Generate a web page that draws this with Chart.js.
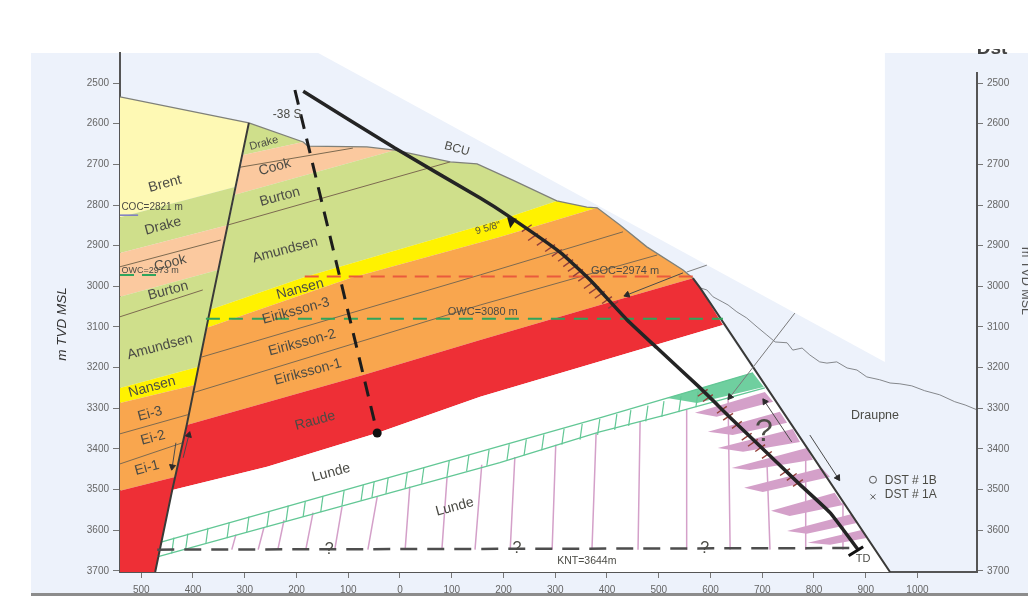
<!DOCTYPE html>
<html>
<head>
<meta charset="utf-8">
<title>Well section</title>
<style>
  html, body { margin: 0; padding: 0; background: #fff; overflow: hidden; }
  #wrap { width: 1028px; height: 599px; }
  canvas { filter: blur(0.4px); }
</style>
<script src="https://cdn.jsdelivr.net/npm/chart.js@4"></script>
</head>
<body>
<div id="wrap"><canvas id="section" width="1028" height="599"></canvas></div>
<script>
// axis ticks
const xTicks = [-500, -400, -300, -200, -100, 0, 100, 200, 300, 400, 500, 600, 700, 800, 900, 1000];
const depthTicks = [2500, 2600, 2700, 2800, 2900, 3000, 3100, 3200, 3300, 3400, 3500, 3600, 3700];

// west of the fault, [offset, depth]
const brentWest = [[-541, 2534], [-292, 2598], [-319, 2756], [-541, 2830]];
const drakeWest = [[-541, 2830], [-319, 2756], [-332, 2849], [-541, 2918]];
const cookWest = [[-541, 2918], [-332, 2849], [-352, 2960], [-541, 3026]];
const amundsenWest = [[-541, 3026], [-352, 2960], [-389, 3198], [-541, 3250]];
const nansenWest = [[-541, 3250], [-389, 3198], [-396, 3243], [-541, 3287]];
const eirikssonWest = [[-541, 3287], [-396, 3243], [-435, 3469], [-541, 3503]];
const raudeWest = [[-541, 3503], [-435, 3469], [-473, 3703], [-541, 3703]];

// east of the fault
const drakeEast = [[-292, 2598], [-187, 2645], [-303, 2677]];
const cookEast = [[-303, 2677], [-187, 2645], [-178, 2655], [-64, 2657], [-10, 2665], [-319, 2775]];
const amundsenEast = [[-319, 2775], [-10, 2665], [97, 2694], [149, 2699], [218, 2739], [303, 2790], [193, 2837], [-184, 2977], [-367, 3058]];
const nansenEast = [[-367, 3058], [-184, 2977], [193, 2837], [303, 2790], [361, 2805], [381, 2807], [193, 2879], [-97, 2980], [-373, 3102]];
const eirikssonEast = [[-373, 3102], [-97, 2980], [193, 2879], [381, 2807], [425, 2849], [477, 2903], [547, 2960], [566, 2980], [400, 3041], [155, 3132], [-71, 3218], [-412, 3341]];
const raudeEast = [[-412, 3341], [-71, 3218], [155, 3132], [400, 3041], [566, 2980], [580, 3004], [624, 3095], [155, 3272], [-44, 3361], [-257, 3444], [-440, 3501]];
const lunde = [[-440, 3501], [-257, 3444], [-44, 3361], [155, 3272], [624, 3095], [947, 3703], [-473, 3703]];
const blankArea = [[-158, 2426], [937, 2426], [937, 3186]];

// structure lines
const bcu = [[-541, 2534], [-292, 2598], [-187, 2645], [-178, 2655], [-64, 2657], [-10, 2665], [97, 2694], [149, 2699], [218, 2739], [303, 2790], [361, 2805], [381, 2807], [425, 2849], [477, 2903], [547, 2960], [566, 2980]];
const mainFault = [[-292, 2598], [-367, 3058], [-412, 3341], [-440, 3501], [-473, 3703]];
const eastFault = [[566, 2980], [580, 3004], [947, 3703]];
const draupneTop = [[580, 3004], [593, 3009], [605, 3026], [624, 3039], [634, 3046], [651, 3063], [670, 3078], [690, 3100], [709, 3120], [725, 3137], [748, 3139], [759, 3157], [777, 3152], [792, 3169], [811, 3186], [825, 3189], [844, 3186], [864, 3201], [883, 3206], [902, 3223], [927, 3230], [947, 3238], [966, 3240], [989, 3245], [1014, 3257], [1043, 3267], [1072, 3284], [1092, 3292], [1115, 3304]];
const innerLines = [
  [[-541, 2952], [-346, 2886]],
  [[-541, 3075], [-381, 3009]],
  [[-541, 3363], [-410, 3316]],
  [[-541, 3437], [-420, 3385]],
  [[-309, 2707], [-91, 2660]],
  [[-332, 2849], [97, 2694]],
  [[-383, 3174], [155, 2972], [431, 2866]],
  [[-400, 3262], [155, 3046], [497, 2923]]
];

// contacts
const gocEast = [[-184, 2976], [566, 2976]];
const owcEast = [[-375, 3080], [624, 3080]];
const cocWest = [[-541, 2825], [-506, 2825]];
const owcWest = [[-541, 2972], [-468, 2972]];
const knt = [[-469, 3648], [885, 3644]];

// Lunde cemented band
const bandTop = [[-460, 3629], [193, 3393], [386, 3324], [516, 3275], [682, 3213]];
const bandBase = [[-469, 3666], [193, 3434], [386, 3358], [516, 3316], [705, 3250]];
const bandFill = [[516, 3275], [682, 3213], [703, 3248], [574, 3287]];
const bandHatchX = [-439, -412, -373, -332, -294, -255, -218, -185, -151, -110, -73, -52, -25, 12, 44, 93, 131, 170, 209, 242, 276, 315, 350, 384, 417, 444, 477, 508, 541, 574];
const bandHatchY = [3638, 3628, 3614, 3600, 3586, 3573, 3559, 3548, 3536, 3521, 3508, 3500, 3491, 3478, 3466, 3449, 3435, 3422, 3408, 3396, 3384, 3370, 3358, 3346, 3334, 3324, 3313, 3302, 3290, 3278];

// pink fractures
const fractureTopX = [-317, -263, -224, -168, -112, -44, 19, 91, 158, 222, 301, 379, 464, 554, 634, 709, 784, 856];
const fractureTopY = [3611, 3594, 3575, 3557, 3543, 3518, 3493, 3469, 3439, 3420, 3390, 3361, 3334, 3304, 3272, 3427, 3427, 3533];
const fractureFootX = [-325, -274, -236, -182, -126, -62, 10, 81, 145, 213, 294, 371, 460, 554, 638, 715, 784, 856];
const fractureFootY = 3648;
const wedges = [
  [[570, 3311], [705, 3260], [721, 3284], [612, 3321]],
  [[595, 3358], [734, 3309], [748, 3336], [643, 3366]],
  [[614, 3398], [759, 3351], [773, 3383], [663, 3407]],
  [[641, 3447], [786, 3398], [798, 3427], [676, 3452]],
  [[665, 3496], [815, 3447], [831, 3469], [701, 3506]],
  [[717, 3552], [840, 3508], [856, 3538], [753, 3565]],
  [[748, 3602], [873, 3560], [885, 3582], [786, 3609]],
  [[788, 3631], [894, 3599], [904, 3619], [831, 3636]]
];

// wells
const wellPath = [[-187, 2520], [-10, 2660], [155, 2783], [207, 2825], [309, 2916], [367, 2984], [439, 3083], [497, 3152], [580, 3250], [643, 3329], [773, 3488], [831, 3557], [885, 3648]];
const wellTD = [[867, 3663], [895, 3641]];
const casingShoe = [[207, 2830], [226, 2834], [213, 2857]];
const oldWell = [[-203, 2517], [-44, 3361]];
const perfX = [245, 257, 274, 290, 303, 315, 325, 334, 344, 354, 365, 375, 386, 400, 412, 585, 595, 622, 634, 651, 670, 682, 696, 709, 744, 757, 769];
const perfY = [2857, 2879, 2891, 2906, 2918, 2930, 2943, 2955, 2967, 2979, 2997, 3009, 3021, 3034, 3046, 3262, 3275, 3304, 3321, 3341, 3370, 3385, 3398, 3415, 3457, 3469, 3484];

// arrows, second point is the head
const arrows = [
  [[-433, 3385], [-440, 3444]],
  [[-419, 3422], [-408, 3366]],
  [[547, 2967], [439, 3021]],
  [[763, 3066], [638, 3272]],
  [[757, 3383], [705, 3284]],
  [[792, 3366], [846, 3471]]
];
const arrowHeadings = [190, 15, -111, 218, -34, 147];
const faultStub = [[554, 2965], [593, 2948]];

const rightAxisLine = [[1115, 2473], [1115, 3703]];
const dstOpen = [[914, 3476]];
const dstCross = [[914, 3518]];

const labels = [
  { t: "Brent", x: -454, y: 2748 },
  { t: "Drake", x: -458, y: 2852 },
  { t: "COC=2821 m", x: -479, y: 2805, size: 10, rot: 0 },
  { t: "OWC=2973 m", x: -483, y: 2960, size: 9, rot: 0 },
  { t: "Cook", x: -444, y: 2943 },
  { t: "Burton", x: -448, y: 3011 },
  { t: "Amundsen", x: -464, y: 3149 },
  { t: "Nansen", x: -479, y: 3248 },
  { t: "Ei-3", x: -483, y: 3314 },
  { t: "Ei-2", x: -477, y: 3373 },
  { t: "Ei-1", x: -489, y: 3447 },
  { t: "Drake", x: -263, y: 2648, size: 11 },
  { t: "Cook", x: -242, y: 2707 },
  { t: "Burton", x: -232, y: 2780 },
  { t: "Amundsen", x: -222, y: 2911 },
  { t: "Nansen", x: -193, y: 3007 },
  { t: "Eiriksson-3", x: -201, y: 3061 },
  { t: "Eiriksson-2", x: -189, y: 3139 },
  { t: "Eiriksson-1", x: -178, y: 3211 },
  { t: "Raude", x: -164, y: 3331 },
  { t: "Lunde", x: -133, y: 3459 },
  { t: "Lunde", x: 106, y: 3543 },
  { t: "-38 S", x: -218, y: 2579, size: 12, rot: 0 },
  { t: "BCU", x: 110, y: 2662, size: 12, rot: 15 },
  { t: "9 5/8\"", x: 170, y: 2857, size: 10 },
  { t: "GOC=2974 m", x: 435, y: 2962, size: 11, rot: 0 },
  { t: "OWC=3080 m", x: 160, y: 3063, size: 11, rot: 0 },
  { t: "KNT=3644m", x: 361, y: 3675, size: 10.5, rot: 0 },
  { t: "TD", x: 895, y: 3670, size: 11, rot: 0 },
  { t: "Draupne", x: 918, y: 3319, size: 12.5, rot: 0 },
  { t: "DST # 1B", x: 987, y: 3479, size: 12, rot: 0 },
  { t: "DST # 1A", x: 987, y: 3513, size: 12, rot: 0 },
  { t: "?", x: -137, y: 3648, size: 16, rot: 0 },
  { t: "?", x: 226, y: 3646, size: 16, rot: 0 },
  { t: "?", x: 589, y: 3646, size: 16, rot: 0 },
  { t: "?", x: 703, y: 3358, size: 32, rot: 0 }
];

const FONT = '"Liberation Sans", Arial, sans-serif';
const toPoints = pts => pts.map(p => ({ x: p[0], y: p[1] }));

function poly(pts, color) {
  return { data: toPoints(pts), showLine: true, fill: "shape", backgroundColor: color, borderWidth: 0, pointRadius: 0 };
}
function line(pts, color, width, dash) {
  return { data: toPoints(pts), showLine: true, fill: false, borderColor: color, borderWidth: width, borderDash: dash || [], pointRadius: 0 };
}
function marks(pts, color, style, radius, rotation, width) {
  return {
    data: toPoints(pts), showLine: false,
    pointStyle: style, pointRadius: radius, pointRotation: rotation,
    pointBorderColor: color, pointBackgroundColor: color, pointBorderWidth: width
  };
}
const zip = (xs, ys) => xs.map((x, i) => [x, ys[i]]);

const GREEN = "#cfdf8b", PEACH = "#fbc99f", YELLOW = "#fff200", ORANGE = "#f9a64e", RED = "#ee2f36";
const BAND = "#6fcf9f", PINK = "#d4a0c9";

const fractures = [];
fractureTopX.forEach((x, i) => {
  fractures.push([x, fractureTopY[i]], [fractureFootX[i], fractureFootY], [NaN, NaN]);
});

const well = line(wellPath, "#242424", 3.5);
well.tension = 0.15;
const rightAxis = line(rightAxisLine, "#555555", 2);
rightAxis.clip = false;
const openMark = marks(dstOpen, "#555555", "circle", 3.5, 0, 1);
openMark.pointBackgroundColor = "rgba(0,0,0,0)";

// painter's order, reversed below because chart.js draws the last dataset first
const layers = [
  poly(blankArea, "#ffffff"),
  poly(brentWest, "#fef9b4"), poly(drakeWest, GREEN), poly(cookWest, PEACH), poly(amundsenWest, GREEN),
  poly(nansenWest, YELLOW), poly(eirikssonWest, ORANGE), poly(raudeWest, RED),
  poly(drakeEast, GREEN), poly(cookEast, PEACH), poly(amundsenEast, GREEN), poly(nansenEast, YELLOW),
  poly(eirikssonEast, ORANGE), poly(raudeEast, RED), poly(lunde, "#ffffff"),
  line(draupneTop, "#85888c", 1),
  ...innerLines.map(l => line(l, "#7d6a50", 1)),
  line(fractures, PINK, 1.5),
  ...wedges.map(w => poly(w, PINK)),
  poly(bandFill, BAND),
  line(bandTop, "#62c795", 1.3), line(bandBase, "#62c795", 1.3),
  marks(zip(bandHatchX, bandHatchY), "#62c795", "line", 8, -82, 1.2),
  line(bcu, "#7f8078", 1.3),
  line(mainFault, "#3a3a38", 2), line(eastFault, "#3a3a38", 2),
  line(faultStub, "#808080", 1),
  line(gocEast, "#ea5a3c", 2, [14, 8]),
  line(owcEast, "#2fa55c", 2, [14, 9]),
  line(cocWest, "#7a78c4", 1.5),
  line(owcWest, "#2fa55c", 2, [14, 8]),
  line(knt, "#4d4d4d", 2.5, [17, 10]),
  marks(zip(perfX, perfY), "#93403a", "line", 6, -35, 1.4),
  line(oldWell, "#1c1c1c", 3, [15, 10]),
  marks([oldWell[1]], "#111111", "circle", 4.5, 0, 0),
  well,
  line(wellTD, "#111111", 3),
  poly(casingShoe, "#1c1c1c"),
  openMark,
  marks(dstCross, "#555555", "crossRot", 3.5, 0, 1),
  rightAxis
];
arrows.forEach((a, i) => {
  const ds = line(a, i === 3 ? "#7a7a7a" : "#4a4a4a", 1);
  ds.pointStyle = "triangle";
  ds.pointRadius = [0, 3.5];
  ds.pointRotation = [0, arrowHeadings[i]];
  ds.pointBackgroundColor = "#2a2a2a";
  ds.pointBorderColor = "#2a2a2a";
  layers.push(ds);
});

const panelPlugin = {
  id: "panel",
  beforeDraw(chart) {
    const c = chart.ctx;
    c.save();
    c.fillStyle = "#edf2fb";
    c.fillRect(31, 53, 997, 540);
    c.fillStyle = "#8c8c8c";
    c.fillRect(31, 593, 997, 3);
    c.restore();
  }
};

const labelPlugin = {
  id: "sectionLabels",
  afterDatasetsDraw(chart) {
    const c = chart.ctx, sx = chart.scales.x, sy = chart.scales.y;
    c.save();
    c.textAlign = "center";
    c.textBaseline = "middle";
    c.fillStyle = "#4b4b45";
    labels.forEach(l => {
      c.save();
      c.translate(sx.getPixelForValue(l.x), sy.getPixelForValue(l.y));
      c.rotate((l.rot === undefined ? -15 : l.rot) * Math.PI / 180);
      c.font = (l.size || 14) + "px " + FONT;
      c.fillText(l.t, 0, 0);
      c.restore();
    });
    // axis titles and the cut off heading
    c.fillStyle = "#333333";
    c.save();
    c.translate(62, 324);
    c.rotate(-Math.PI / 2);
    c.font = "italic 13.5px " + FONT;
    c.fillText("m TVD MSL", 0, 0);
    c.restore();
    c.fillStyle = "#555555";
    c.save();
    c.translate(1025, 281);
    c.rotate(Math.PI / 2);
    c.font = "12.5px " + FONT;
    c.fillText("m TVD MSL", 0, 0);
    c.restore();
    c.save();
    c.beginPath();
    c.rect(960, 49, 68, 10);
    c.clip();
    c.fillStyle = "#444444";
    c.font = "bold 19px " + FONT;
    c.fillText("Dst", 992, 49);
    c.restore();
    c.restore();
  }
};

const tickFont = { family: FONT, size: 10 };

new Chart(document.getElementById("section"), {
  type: "scatter",
  data: { datasets: layers.slice().reverse() },
  plugins: [panelPlugin, labelPlugin],
  options: {
    responsive: false,
    animation: false,
    events: [],
    elements: { line: { tension: 0 } },
    layout: { padding: { top: 53 } },
    plugins: { legend: { display: false }, tooltip: { enabled: false } },
    scales: {
      x: {
        type: "linear", min: -541, max: 1115, z: 1,
        afterBuildTicks: s => { s.ticks = xTicks.map(v => ({ value: v })); },
        afterFit: s => { s.height = 27; },
        grid: { drawOnChartArea: false, tickLength: 6, color: "#777777" },
        border: { color: "#555555", width: 2 },
        ticks: { font: tickFont, color: "#666666", padding: 6, maxRotation: 0, autoSkip: false, callback: v => Math.abs(v) }
      },
      y: {
        type: "linear", reverse: true, min: 2426, max: 3703, z: 1,
        afterBuildTicks: s => { s.ticks = depthTicks.map(v => ({ value: v })); },
        afterFit: s => { s.width = 120; },
        grid: { drawOnChartArea: false, tickLength: 7, color: "#777777" },
        border: { color: "#555555", width: 2 },
        ticks: { font: tickFont, color: "#666666", padding: 4, autoSkip: false, callback: v => v }
      },
      y2: {
        type: "linear", position: "right", reverse: true, min: 2426, max: 3703,
        afterBuildTicks: s => { s.ticks = depthTicks.map(v => ({ value: v })); },
        afterFit: s => { s.width = 51; },
        grid: { drawOnChartArea: false, tickLength: 6, color: "#777777" },
        border: { display: false },
        ticks: { font: tickFont, color: "#666666", padding: 4, autoSkip: false, callback: v => v }
      }
    }
  }
});
</script>
</body>
</html>
